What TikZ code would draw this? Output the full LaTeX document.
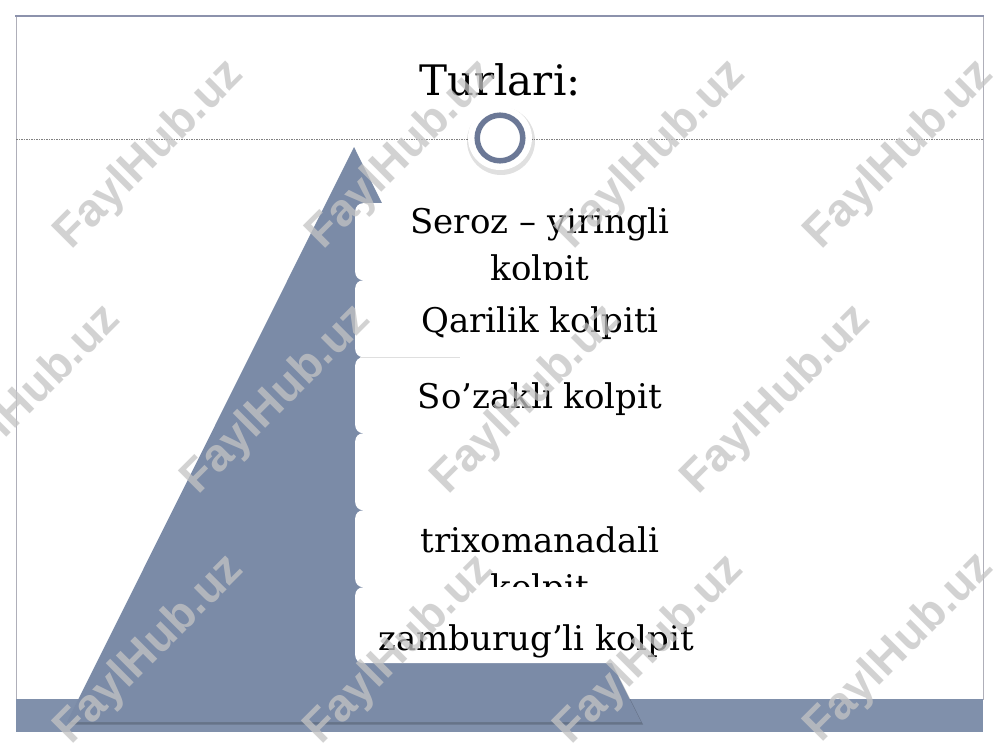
\documentclass[tikz,border=0pt]{standalone}
\usepackage{fontspec}
\setmainfont{DejaVu Serif}
\newfontfamily\wmfont{Liberation Sans}
\definecolor{slate}{RGB}{123,139,167}
\definecolor{barcol}{RGB}{128,144,171}
\definecolor{ringcol}{RGB}{107,120,150}
\definecolor{framecol}{RGB}{140,146,172}
\definecolor{sidecol}{RGB}{175,175,185}
\definecolor{wmcol}{RGB}{196,196,196}
\tikzset{
  stepbox/.style={fill=white, draw=none, rounded corners=8pt, inner sep=0pt,
    minimum width=370pt, anchor=north west},
  itemtext/.style={font=\fontsize{34}{47}\selectfont, text=black, anchor=base, align=center, inner sep=0pt},
  titletext/.style={font=\fontsize{42}{48}\selectfont, text=black, anchor=base, inner sep=0pt},
  wm/.style={font=\wmfont\bfseries\fontsize{46}{46}\selectfont, text=wmcol, text opacity=0.75, rotate=45, inner sep=0pt}
}
\begin{document}
\begin{tikzpicture}[x=1pt,y=-1pt]
\useasboundingbox (0,0) rectangle (1000,750);
\fill[white] (0,0) rectangle (1000,750);
% frame
\draw[sidecol, line width=0.8pt] (16,16) -- (16,700);
\draw[sidecol, line width=0.8pt] (983,16) -- (983,700);
\draw[framecol, line width=2pt] (15,16) -- (984,16);
\draw[gray, line width=0.6pt, dash pattern=on 1.5pt off 1pt] (16,139) -- (983,139);
% bottom bar
\fill[barcol] (16,699) rectangle (983,732);
% triangle with shadow
\fill[black, opacity=0.2] (354,149) -- (643,724.5) -- (69,724.5) -- cycle;
\fill[slate] (354,147) -- (641,722) -- (67,722) -- cycle;
% boxes and texts
\node[stepbox, minimum height=77pt] (b1) at (355,203) {};
\node[itemtext] (t1) at (540,280) {Seroz – yiringli\\kolpit};
\node[stepbox, minimum height=77pt] (b2) at (355,280) {};
\node[itemtext] (t2) at (540,332) {Qarilik kolpiti};
\node[stepbox, minimum height=76pt] (b3) at (355,357) {};
\draw[gray!25, line width=0.6pt] (360,357) -- (460,357);
\node[itemtext] (t3) at (540,408) {So’zakli kolpit};
\node[stepbox, minimum height=77pt] (b4) at (355,433) {};
\node[stepbox, minimum height=77pt] (b5) at (355,510) {};
\node[itemtext] (t5) at (540,599) {trixomanadali\\kolpit};
\node[stepbox, minimum height=76pt] (b6) at (355,587) {};
\node[itemtext] (t6) at (536,650) {zamburug’li kolpit};
% circle
\fill[black, opacity=0.12] (501,141) circle (34);
\fill[white] (500,138) circle (32);
\draw[ringcol, line width=5.5pt] (500,138) circle (22.8);
% title
\node[titletext] (title) at (500,95) {Turlari:};
% watermarks
\foreach \x/\y [count=\i] in {150/155, 402/155, 652/155, 900/155,
    27/400, 277/400, 527/400, 777/400,
    150/650, 400/650, 650/650, 900/648}{
  \node[wm] (wm\i) at (\x,\y) {FaylHub.uz};
}
\end{tikzpicture}
\end{document}
